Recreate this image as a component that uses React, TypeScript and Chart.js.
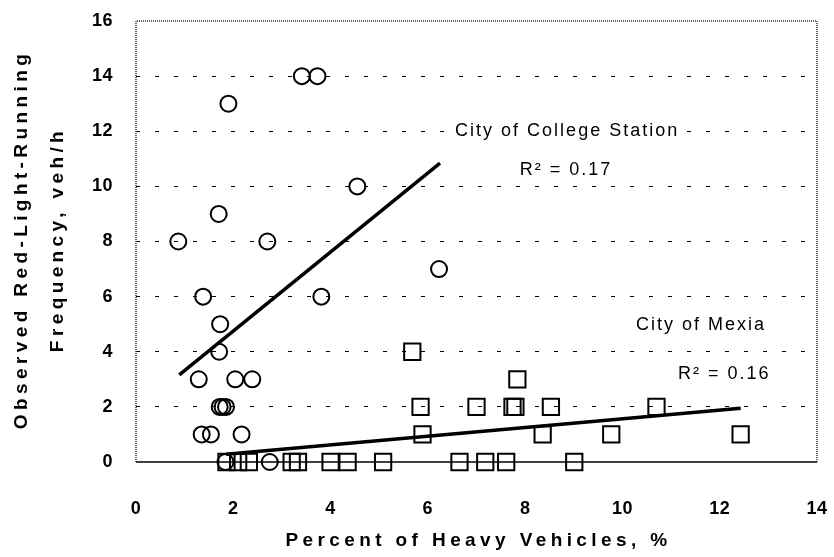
import React, { useEffect, useRef } from "react";
import { Chart, registerables } from "chart.js";

Chart.register(...registerables);

// ---- data ----
const collegeX = [0.87, 1.9, 3.41, 3.73, 4.55, 1.7, 2.7, 1.38, 3.81, 1.73, 1.71, 1.29, 2.04, 2.39, 1.72, 1.78, 1.85, 1.35, 1.54, 2.17, 1.84, 2.75, 6.23];
const collegeY = [8, 13, 14, 14, 10, 9, 8, 6, 6, 5, 4, 3, 3, 3, 2, 2, 2, 1, 1, 1, 0, 0, 7];

const mexiaX = [5.68, 5.85, 5.89, 7.84, 7.0, 7.74, 7.8, 8.53, 10.7, 8.36, 9.77, 12.43, 1.86, 2.1, 2.32, 3.2, 3.33, 4.0, 4.35, 5.08, 6.65, 7.18, 7.61, 9.01];
const mexiaY = [4, 2, 1, 3, 2, 2, 2, 2, 2, 1, 1, 1, 0, 0, 0, 0, 0, 0, 0, 0, 0, 0, 0, 0];

const collegeFitX = [0.89, 6.25];
const collegeFitY = [3.16, 10.84];
const mexiaFitX = [1.85, 12.43];
const mexiaFitY = [0.28, 1.95];

const xTicks = [0, 2, 4, 6, 8, 10, 12, 14];
const yTicks = [0, 2, 4, 6, 8, 10, 12, 14, 16];

const xTitle = "Percent of Heavy Vehicles, %";
const yTitle = ["Observed Red-Light-Running", "Frequency, veh/h"];

const noteText = ["City of College Station", "R\u00B2 = 0.17", "City of Mexia", "R\u00B2 = 0.16"];
const noteX = [6.56, 7.89, 10.28, 11.14];
const noteY = [12, 10.6, 4.97, 3.2];

const FONT = '"Liberation Sans", Arial, Helvetica, sans-serif';

const toPoints = (xs: number[], ys: number[]) => xs.map((x, i) => ({ x, y: ys[i] }));

const decorPlugin = {
  id: "decor",
  beforeDraw(chart: any) {
    const ctx = chart.ctx;
    ctx.save();
    ctx.fillStyle = "#ffffff";
    ctx.fillRect(0, 0, chart.width, chart.height);
    ctx.restore();
    (ctx as any).letterSpacing = "0.5px";
  },
  beforeDatasetsDraw(chart: any) {
    const ctx = chart.ctx;
    const { left, right, top, bottom } = chart.chartArea;
    ctx.save();
    (ctx as any).letterSpacing = "0px";
    ctx.strokeStyle = "#333";
    ctx.lineWidth = 1.5;
    ctx.setLineDash([1, 1]);
    ctx.beginPath();
    ctx.moveTo(left, bottom);
    ctx.lineTo(left, top);
    ctx.lineTo(right, top);
    ctx.lineTo(right, bottom);
    ctx.stroke();
    ctx.setLineDash([]);
    ctx.strokeStyle = "#000";
    ctx.lineWidth = 1.5;
    ctx.beginPath();
    ctx.moveTo(left, bottom);
    ctx.lineTo(right, bottom);
    ctx.stroke();
    const xs = chart.scales.x;
    const ys = chart.scales.y;
    ctx.font = `18px ${FONT}`;
    (ctx as any).letterSpacing = "2px";
    ctx.textBaseline = "middle";
    ctx.textAlign = "left";
    noteText.forEach((t, i) => {
      const px = xs.getPixelForValue(noteX[i]);
      const py = ys.getPixelForValue(noteY[i]);
      const w = ctx.measureText(t).width;
      ctx.fillStyle = "#fff";
      ctx.fillRect(px - 2, py - 8, w + 2, 16);
      ctx.fillStyle = "#000";
      ctx.fillText(t, px, py);
    });
    ctx.restore();
  },
  afterDraw(chart: any) {
    const ctx = chart.ctx;
    const { left, right, top, bottom } = chart.chartArea;
    ctx.save();
    ctx.fillStyle = "#000";
    ctx.font = `bold 19px ${FONT}`;
    (ctx as any).letterSpacing = "4.4px";
    ctx.textAlign = "center";
    ctx.textBaseline = "middle";
    ctx.fillText(xTitle, (left + right) / 2 + 2, 541);
    const cy = (top + bottom) / 2;
    const xsPos = [22, 58];
    yTitle.forEach((t, i) => {
      ctx.save();
      ctx.translate(xsPos[i], cy);
      ctx.rotate(-Math.PI / 2);
      ctx.fillText(t, 2, 0);
      ctx.restore();
    });
    ctx.restore();
    (ctx as any).letterSpacing = "0px";
  },
};

export default function App() {
  const ref = useRef<HTMLCanvasElement | null>(null);

  useEffect(() => {
    document.body.style.margin = "0";
    if (!ref.current) return;
    const chart = new Chart(ref.current, {
      type: "scatter",
      data: {
        datasets: [
          {
            label: "College Station fit",
            data: toPoints(collegeFitX, collegeFitY),
            showLine: true,
            borderColor: "#000",
            borderWidth: 3.5,
            pointRadius: 0,
            clip: false,
          } as any,
          {
            label: "Mexia fit",
            data: toPoints(mexiaFitX, mexiaFitY),
            showLine: true,
            borderColor: "#000",
            borderWidth: 3.5,
            pointRadius: 0,
            clip: false,
          } as any,
          {
            label: "City of College Station",
            data: toPoints(collegeX, collegeY),
            pointStyle: "circle",
            pointRadius: 8,
            borderWidth: 2,
            borderColor: "#000",
            backgroundColor: "rgba(0,0,0,0)",
            clip: false,
          } as any,
          {
            label: "City of Mexia",
            data: toPoints(mexiaX, mexiaY),
            pointStyle: "rect",
            pointRadius: 11.5,
            borderWidth: 2,
            borderColor: "#000",
            backgroundColor: "rgba(0,0,0,0)",
            clip: false,
          } as any,
        ],
      },
      options: {
        animation: false,
        responsive: false,
        maintainAspectRatio: false,
        layout: { padding: { left: 0, right: 17, top: 21, bottom: 0 } },
        plugins: {
          legend: { display: false },
          tooltip: { enabled: false },
        },
        scales: {
          x: {
            type: "linear",
            min: 0,
            max: 14,
            afterBuildTicks: (s: any) => {
              s.ticks = xTicks.map((v) => ({ value: v }));
            },
            afterFit: (s: any) => {
              s.height = 95;
              s.paddingLeft = 0;
              s.paddingRight = 0;
            },
            grid: { display: false },
            border: { display: false },
            ticks: {
              color: "#000",
              padding: 28,
              font: { family: FONT, size: 18, weight: "bold" },
              maxRotation: 0,
            },
          },
          y: {
            type: "linear",
            min: 0,
            max: 16,
            afterBuildTicks: (s: any) => {
              s.ticks = yTicks.map((v) => ({ value: v }));
            },
            afterFit: (s: any) => {
              s.width = 136;
              s.paddingTop = 0;
              s.paddingBottom = 0;
            },
            grid: {
              display: true,
              drawTicks: false,
              lineWidth: 1,
              color: (c: any) =>
                c.tick && (c.tick.value === 0 || c.tick.value === 16) ? "rgba(0,0,0,0)" : "#000",
            },
            border: { display: false, dash: [4, 15] },
            ticks: {
              color: "#000",
              padding: 23,
              font: { family: FONT, size: 18, weight: "bold" },
            },
          },
        },
      } as any,
      plugins: [decorPlugin],
    });
    return () => chart.destroy();
  }, []);

  return (
    <div style={{ width: 834, height: 557, position: "relative" }}>
      <canvas ref={ref} width={834} height={557} style={{ display: "block" }} />
    </div>
  );
}
